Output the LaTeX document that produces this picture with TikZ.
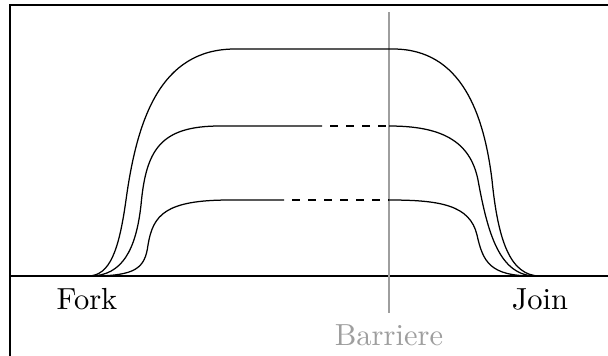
\documentclass[tikz,border=0pt]{standalone}
\usepackage{graphicx}
\usetikzlibrary{positioning}
\definecolor{barrgray}{gray}{0.62}
\newcommand{\bigtxt}[1]{\scalebox{3.05}{\fontsize{10}{12}\selectfont #1}}
\tikzset{
  frameline/.style={line width=1.4pt, black},
  curveline/.style={line width=1.25pt, black},
  dashline/.style={line width=1.25pt, black, dash pattern=on 8pt off 8pt, dash phase=8pt},
  barrline/.style={line width=1.3pt, barrgray},
  lbl/.style={inner sep=0pt},
}
\begin{document}
\begin{tikzpicture}[x=1pt, y=-1pt]
\useasboundingbox (0,0) rectangle (608,356);
% frame and axis
\coordinate (tl) at (10,5);
\coordinate (tr) at (608,5);
\coordinate (bl) at (10,356);
\coordinate (al) at (10,276);
\coordinate (ar) at (608,276);
\draw[frameline] (tr) -- (tl) -- (bl);
\draw[frameline] (al) -- (ar);
% barrier
\coordinate (btop) at (389,12);
\coordinate (bbot) at (389,313);
\draw[barrline] (btop) -- (bbot);
\node[lbl, text=barrgray, anchor=north] (barrier) at (389,324) {\bigtxt{Barriere}};
% labels
\node[lbl, anchor=north] (fork) at (87,288) {\bigtxt{Fork}};
\node[lbl, anchor=north] (join) at (540,288) {\bigtxt{Join}};
% outer curve
\draw[curveline] (88,276) .. controls (110,276) and (119,250) .. (126,200)
  .. controls (137,120) and (160,49) .. (235,49) -- (393,49)
  .. controls (462,49) and (484,115) .. (492,180)
  .. controls (498,240) and (510,276) .. (540,276);
% middle curve
\draw[curveline] (90,276) .. controls (122,276) and (136,250) .. (141,205)
  .. controls (146,150) and (160,126) .. (220,126) -- (322,126);
\draw[dashline] (322,126) -- (389,126);
\draw[curveline] (389,126) .. controls (440,126) and (470,140) .. (478,180)
  .. controls (488,235) and (500,276) .. (536,276);
% inner curve
\draw[curveline] (92,276) .. controls (136,276) and (145,268) .. (148,245)
  .. controls (153,215) and (165,200) .. (230,200) -- (284,200);
\draw[dashline] (284,200) -- (389,200);
\draw[curveline] (389,200) .. controls (440,200) and (470,205) .. (477,235)
  .. controls (483,262) and (490,276) .. (533,276);
\end{tikzpicture}
\end{document}
